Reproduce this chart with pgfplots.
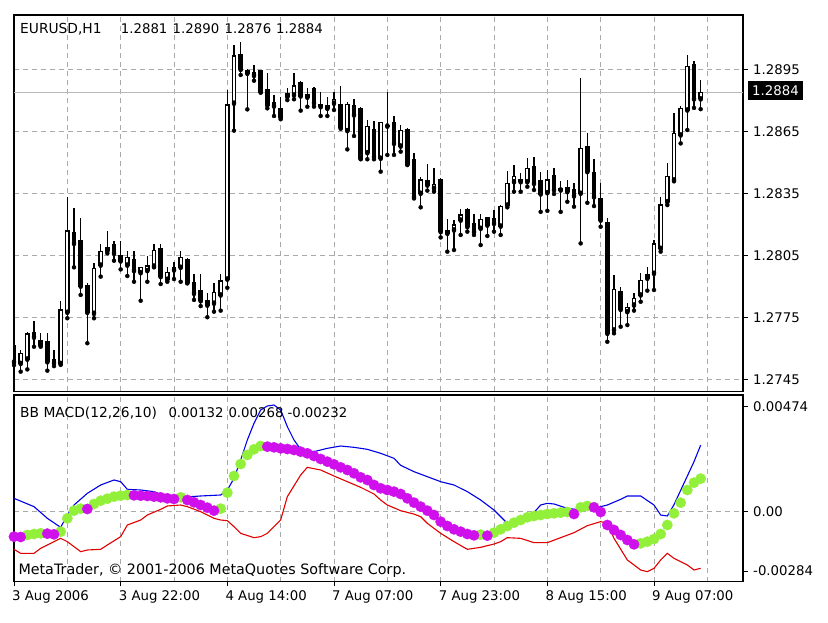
\documentclass[border=0pt]{standalone}
\usepackage{fontspec}
\setmainfont{DejaVu Sans}
\usepackage{pgfplots}
\usepackage{pgfplotstable}
\pgfplotsset{compat=1.18}

\definecolor{mtgreen}{RGB}{146,240,58}
\definecolor{mtmag}{RGB}{208,16,236}
\definecolor{mtblue}{RGB}{0,0,230}
\definecolor{mtred}{RGB}{225,0,0}
\definecolor{gridgray}{RGB}{170,170,170}
\newcommand{\lblfont}{\fontsize{13.3}{15}\selectfont}
\newcommand{\hdrfont}{\fontsize{13.8}{16}\selectfont}

\pgfplotstableread{
i O H L C
0 1.27611 1.27616 1.27519 1.27534
1 1.27527 1.27592 1.27487 1.27576
2 1.27548 1.27681 1.27498 1.27670
3 1.27676 1.27733 1.27608 1.27654
4 1.27636 1.27676 1.27608 1.27616
5 1.27634 1.27676 1.27492 1.27535
6 1.27547 1.27592 1.27514 1.27530
7 1.27527 1.27831 1.27520 1.27786
8 1.27775 1.28333 1.27746 1.28169
9 1.28163 1.28279 1.27993 1.28109
10 1.28121 1.28234 1.27859 1.27902
11 1.27902 1.27917 1.27625 1.27775
12 1.27770 1.28012 1.27746 1.27988
13 1.28004 1.28105 1.27948 1.28069
14 1.28088 1.28169 1.28061 1.28074
15 1.28101 1.28121 1.28025 1.28061
16 1.28048 1.28121 1.27983 1.28024
17 1.28004 1.28072 1.27951 1.28040
18 1.28032 1.28072 1.27923 1.27977
19 1.27967 1.27995 1.27831 1.27991
20 1.27977 1.28048 1.27923 1.27999
21 1.27999 1.28105 1.27993 1.28074
22 1.28082 1.28105 1.27912 1.27948
23 1.27935 1.27993 1.27923 1.27967
24 1.27993 1.28020 1.27936 1.27980
25 1.27993 1.28074 1.27923 1.28040
26 1.28032 1.28040 1.27915 1.27920
27 1.27919 1.27959 1.27835 1.27867
28 1.27878 1.27959 1.27805 1.27831
29 1.27831 1.27867 1.27751 1.27810
30 1.27819 1.27919 1.27778 1.27870
31 1.27859 1.27959 1.27783 1.27927
32 1.27936 1.28853 1.27894 1.28780
33 1.28789 1.29071 1.28656 1.29018
34 1.29023 1.29087 1.28926 1.28953
35 1.28947 1.28953 1.28759 1.28934
36 1.28937 1.28974 1.28898 1.28924
37 1.28945 1.28950 1.28840 1.28845
38 1.28853 1.28937 1.28764 1.28780
39 1.28793 1.28829 1.28727 1.28775
40 1.28764 1.28821 1.28711 1.28721
41 1.28834 1.28864 1.28804 1.28821
42 1.28829 1.28937 1.28808 1.28872
43 1.28889 1.28895 1.28753 1.28824
44 1.28829 1.28861 1.28772 1.28818
45 1.28859 1.28869 1.28772 1.28789
46 1.28780 1.28845 1.28727 1.28772
47 1.28775 1.28818 1.28727 1.28764
48 1.28789 1.28845 1.28756 1.28808
49 1.28784 1.28872 1.28665 1.28672
50 1.28656 1.28796 1.28565 1.28784
51 1.28775 1.28808 1.28630 1.28732
52 1.28764 1.28770 1.28517 1.28522
53 1.28549 1.28707 1.28517 1.28675
54 1.28662 1.28704 1.28517 1.28527
55 1.28522 1.28700 1.28457 1.28694
56 1.28682 1.28845 1.28538 1.28678
57 1.28694 1.28727 1.28538 1.28594
58 1.28581 1.28683 1.28554 1.28656
59 1.28662 1.28667 1.28489 1.28494
60 1.28517 1.28546 1.28327 1.28335
61 1.28352 1.28433 1.28284 1.28417
62 1.28412 1.28493 1.28365 1.28392
63 1.28376 1.28473 1.28360 1.28395
64 1.28417 1.28425 1.28138 1.28166
65 1.28169 1.28226 1.28069 1.28158
66 1.28174 1.28222 1.28077 1.28198
67 1.28222 1.28274 1.28150 1.28247
68 1.28271 1.28279 1.28166 1.28190
69 1.28206 1.28250 1.28150 1.28166
70 1.28182 1.28250 1.28101 1.28226
71 1.28234 1.28239 1.28145 1.28198
72 1.28231 1.28271 1.28166 1.28206
73 1.28193 1.28295 1.28150 1.28287
74 1.28295 1.28462 1.28284 1.28400
75 1.28408 1.28489 1.28360 1.28433
76 1.28417 1.28452 1.28360 1.28408
77 1.28408 1.28522 1.28384 1.28473
78 1.28481 1.28527 1.28368 1.28400
79 1.28412 1.28457 1.28262 1.28349
80 1.28355 1.28465 1.28267 1.28417
81 1.28436 1.28473 1.28349 1.28368
82 1.28376 1.28413 1.28262 1.28368
83 1.28379 1.28417 1.28311 1.28360
84 1.28368 1.28400 1.28287 1.28339
85 1.28352 1.28913 1.28109 1.28570
86 1.28578 1.28646 1.28306 1.28457
87 1.28452 1.28517 1.28290 1.28335
88 1.28327 1.28403 1.28190 1.28222
89 1.28209 1.28231 1.27632 1.27673
90 1.27689 1.27956 1.27673 1.27886
91 1.27875 1.27899 1.27705 1.27789
92 1.27778 1.27819 1.27713 1.27797
93 1.27810 1.27867 1.27783 1.27843
94 1.27859 1.27964 1.27826 1.27928
95 1.27940 1.27996 1.27880 1.27956
96 1.27964 1.28125 1.27883 1.28106
97 1.28085 1.28333 1.28069 1.28295
98 1.28311 1.28500 1.28295 1.28433
99 1.28417 1.28743 1.28410 1.28643
100 1.28635 1.28775 1.28594 1.28764
101 1.28756 1.29023 1.28659 1.28966
102 1.28974 1.28992 1.28766 1.28810
103 1.28810 1.28900 1.28760 1.28840
}\candles

\pgfplotstableread{
i v
2 -0.000967
3 -0.000927
4 -0.000900
7 -0.000832
8 -0.000291
9 0.000020
10 0.000101
12 0.000291
13 0.000426
14 0.000507
15 0.000589
16 0.000629
17 0.000656
25 0.000562
31 0.000101
32 0.000751
33 0.001427
34 0.001914
35 0.002280
36 0.002510
37 0.002645
70 -0.000954
72 -0.000873
73 -0.000737
74 -0.000602
75 -0.000467
76 -0.000359
77 -0.000250
78 -0.000196
79 -0.000156
80 -0.000115
81 -0.000088
82 -0.000061
83 -0.000034
85 0.000156
86 0.000210
94 -0.001306
95 -0.001238
96 -0.001130
97 -0.000927
98 -0.000561
99 -0.000088
100 0.000345
101 0.000859
102 0.001157
103 0.001320
}\macdup

\pgfplotstableread{
i v
0 -0.001035
1 -0.001050
5 -0.000913
6 -0.000940
11 0.000088
18 0.000643
19 0.000629
20 0.000616
21 0.000589
22 0.000562
23 0.000521
24 0.000494
26 0.000453
27 0.000359
28 0.000250
29 0.000142
30 0.000020
38 0.002618
39 0.002591
40 0.002550
41 0.002523
42 0.002483
43 0.002415
44 0.002347
45 0.002239
46 0.002117
47 0.002009
48 0.001901
49 0.001779
50 0.001671
51 0.001536
52 0.001373
53 0.001265
54 0.001062
55 0.000927
56 0.000859
57 0.000792
58 0.000697
59 0.000521
60 0.000345
61 0.000183
62 0.000020
63 -0.000156
64 -0.000426
65 -0.000602
66 -0.000737
67 -0.000832
68 -0.000927
69 -0.000981
71 -0.000994
84 -0.000115
87 0.000156
88 -0.000034
89 -0.000561
90 -0.000764
91 -0.000967
92 -0.001170
93 -0.001346
}\macddn

\pgfplotstableread{
i v
0 0.000521
3 0.000183
5 -0.000291
7 -0.000656
8 -0.000156
9 0.000250
11 0.000724
13 0.001062
15 0.001265
16 0.001197
17 0.000886
19 0.000859
21 0.000792
23 0.000589
25 0.000562
28 0.000616
31 0.000656
32 0.000859
33 0.001333
34 0.002077
35 0.002889
36 0.003565
37 0.004106
38 0.004269
39 0.004309
40 0.004106
41 0.003430
42 0.002889
43 0.002510
44 0.002456
45 0.002415
47 0.002550
49 0.002645
51 0.002591
53 0.002510
55 0.002348
57 0.002145
58 0.001860
60 0.001603
62 0.001400
64 0.001197
66 0.001062
68 0.000792
70 0.000453
72 0.000047
74 -0.000494
75 -0.000562
77 -0.000359
79 0.000250
80 0.000318
81 0.000291
83 0.000115
85 0.000047
87 0.000115
89 0.000250
91 0.000480
92 0.000616
94 0.000616
96 0.000250
97 -0.000156
98 -0.000196
99 0.000264
100 0.000846
101 0.001427
102 0.002009
103 0.002680
}\bandup

\pgfplotstableread{
i v
0 -0.001549
1 -0.001712
3 -0.001712
4 -0.001509
6 -0.001238
7 -0.001103
8 -0.001238
9 -0.001441
10 -0.001644
11 -0.001576
13 -0.001549
14 -0.001373
16 -0.001035
17 -0.000562
19 -0.000359
20 -0.000156
22 0.000074
23 0.000210
25 0.000250
26 0.000183
28 -0.000020
30 -0.000291
31 -0.000359
32 -0.000386
33 -0.000629
34 -0.000900
36 -0.001076
37 -0.001035
38 -0.000900
40 -0.000359
41 0.000589
43 0.001468
44 0.001779
46 0.001671
48 0.001427
50 0.001197
52 0.000967
54 0.000697
55 0.000453
56 0.000250
58 0.000020
60 -0.000120
61 -0.000223
62 -0.000494
64 -0.000900
66 -0.001238
68 -0.001549
70 -0.001468
72 -0.001333
73 -0.001238
74 -0.001076
76 -0.001103
78 -0.001279
80 -0.001279
82 -0.001076
84 -0.000873
86 -0.000589
88 -0.000426
89 -0.000494
90 -0.001103
92 -0.001982
94 -0.002388
95 -0.002456
96 -0.002320
97 -0.001982
98 -0.001712
99 -0.001914
101 -0.002185
102 -0.002388
103 -0.002320
}\banddn

\begin{document}
\begin{tikzpicture}
\useasboundingbox (0pt,0pt) rectangle (828pt,622pt);

\pgfplotsset{
  mtbase/.style={
    scale only axis, width=729pt,
    xmin=0, xmax=109.35,
    axis line style={line width=1.3pt, black},
    tick align=outside, major tick length=4.5pt,
    ytick pos=right, yticklabel pos=right,
    tick style={line width=1pt, black},
    yticklabel style={font=\lblfont, anchor=west, inner sep=0pt, xshift=5.5pt},
    scaled y ticks=false,
    major grid style={gridgray, line width=1pt, dash pattern=on 5pt off 4pt},
    minor grid style={gridgray, line width=1pt, dash pattern=on 5pt off 4pt},
  },
  candle/.style={only marks, mark=none, forget plot,
    error bars/.cd, y dir=plus, y explicit, error mark=none},
}

% ---------- price panel ----------
\begin{axis}[mtbase,
  at={(14pt,230.5pt)}, anchor=south west, height=376.5pt,
  ymin=1.273908, ymax=1.292167,
  xtick={0,8,...,104}, xticklabels={}, xtick style={draw=none},
  ytick={1.2745,1.2775,1.2805,1.2835,1.2865,1.2895},
  yticklabels={\textnormal{1.2745},\textnormal{1.2775},\textnormal{1.2805},\textnormal{1.2835},\textnormal{1.2865},\textnormal{1.2895}},
  xmajorgrids, ymajorgrids,
]
\addplot[gray!55, line width=1pt, forget plot] coordinates {(0,1.2884) (109.35,1.2884)};
% wicks
\addplot[candle, error bar style={line width=1.2pt, black}]
  table[x=i, y=L, y error plus expr={\thisrow{H}-\thisrow{L}}] {\candles};
% bodies (black outline / fill)
\addplot[candle, error bar style={line width=4.6pt, black}]
  table[x=i, y expr={min(\thisrow{O},\thisrow{C})-0.00003},
        y error plus expr={abs(\thisrow{C}-\thisrow{O})+0.00006}] {\candles};
% hollow insides of rising candles
\addplot[candle, error bar style={line width=2.2pt, white}]
  table[x=i, y expr={min(\thisrow{O},\thisrow{C})+0.00003},
        y error plus expr={(\thisrow{C}>\thisrow{O})*max(abs(\thisrow{C}-\thisrow{O})-0.00006,0)}] {\candles};
\end{axis}

% ---------- indicator panel ----------
\begin{axis}[mtbase,
  at={(14pt,40.3pt)}, anchor=south west, height=186.7pt,
  ymin=-0.002863, ymax=0.004715,
  xtick={0,16,32,48,64,80,96},
  xticklabels={\textnormal{3 Aug 2006},\textnormal{3 Aug 22:00},\textnormal{4 Aug 14:00},\textnormal{7 Aug 07:00},\textnormal{7 Aug 23:00},\textnormal{8 Aug 15:00},\textnormal{9 Aug 07:00}},
  minor xtick={8,24,40,56,72,88,104}, minor tick length=0pt,
  xtick pos=bottom, xticklabel pos=bottom,
  xticklabel style={font=\lblfont, anchor=north west, inner sep=0pt, xshift=-2pt, yshift=-4pt},
  ytick={0}, yticklabels={\textnormal{0.00}},
  extra y ticks={0.004242,-0.002429},
  extra y tick labels={\textnormal{0.00474},\textnormal{-0.00284}},
  extra y tick style={grid=none},
  xmajorgrids, xminorgrids, ymajorgrids,
]
\addplot[only marks, color=mtgreen, mark=*, mark size=5.2pt, mark options={fill=mtgreen, draw=mtgreen, line width=0.3pt}] table[x=i,y=v] {\macdup};
\addplot[only marks, color=mtmag, mark=*, mark size=5.2pt, mark options={fill=mtmag, draw=mtmag, line width=0.3pt}] table[x=i,y=v] {\macddn};
\addplot[mtblue, line width=1.1pt] table[x=i,y=v] {\bandup};
\addplot[mtred, line width=1.1pt] table[x=i,y=v] {\banddn};
\end{axis}

% ---------- texts ----------
\node[anchor=base west, inner sep=0pt, font=\hdrfont] at (20pt,588pt) {EURUSD,H1};
\node[anchor=base west, inner sep=0pt, font=\lblfont] at (120.7pt,588pt) {1.2881};
\node[anchor=base west, inner sep=0pt, font=\lblfont] at (172.5pt,588pt) {1.2890};
\node[anchor=base west, inner sep=0pt, font=\lblfont] at (224.5pt,588pt) {1.2876};
\node[anchor=base west, inner sep=0pt, font=\lblfont] at (276pt,588pt) {1.2884};

\node[anchor=base west, inner sep=0pt, font=\hdrfont] at (20pt,204.7pt) {BB MACD(12,26,10)};
\node[anchor=base west, inner sep=0pt, font=\lblfont] at (168.3pt,204.7pt) {0.00132};
\node[anchor=base west, inner sep=0pt, font=\lblfont] at (228.3pt,204.7pt) {0.00268};
\node[anchor=base west, inner sep=0pt, font=\lblfont] at (287.3pt,204.7pt) {-0.00232};

\node[anchor=base west, inner sep=0pt, font=\fontsize{14.3}{17}\selectfont] at (18.3pt,48pt) {MetaTrader, © 2001-2006 MetaQuotes Software Corp.};

\node[fill=black, text=white, minimum width=55pt, minimum height=19pt, inner sep=0pt, font=\lblfont] at (775.5pt,531.5pt) {1.2884};
\end{tikzpicture}
\end{document}
